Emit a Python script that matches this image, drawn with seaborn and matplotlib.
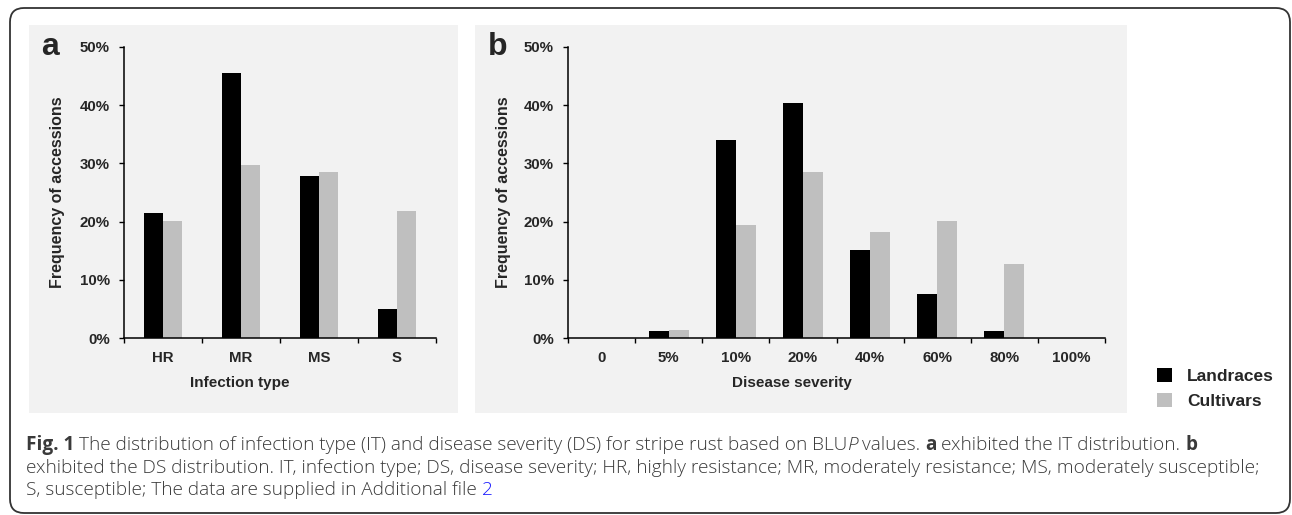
import numpy as np
import pandas as pd
import matplotlib
matplotlib.use("Agg")
import matplotlib.pyplot as plt
import seaborn as sns
from matplotlib.patches import Rectangle, FancyBboxPatch
from matplotlib.transforms import IdentityTransform

# ---------------- data ----------------
it_categories = ["HR", "MR", "MS", "S"]
it_landraces = [21.4, 45.6, 27.8, 5.0]
it_cultivars = [20.1, 29.8, 28.5, 21.9]

ds_categories = ["0", "5%", "10%", "20%", "40%", "60%", "80%", "100%"]
ds_landraces = [0.0, 1.2, 34.1, 40.4, 15.1, 7.5, 1.2, 0.0]
ds_cultivars = [0.0, 1.3, 19.5, 28.5, 18.2, 20.1, 12.8, 0.0]

groups = ["Landraces", "Cultivars"]
palette = ["#000000", "#bfbfbf"]
y_ticks = [0, 10, 20, 30, 40, 50]
y_ticklabels = ["0%", "10%", "20%", "30%", "40%", "50%"]

caption_lines = [
    [("Fig. 1", "bold"), (" ", None),
     ("The distribution of infection type (IT) and disease severity (DS) for stripe rust based on BLU", "normal"),
     ("P", "italic"), (" ", None), ("values.", "normal"), (" ", None), ("a", "bold"), (" ", None),
     ("exhibited the IT distribution.", "normal"), (" ", None), ("b", "bold")],
    [("exhibited the DS distribution. IT, infection type; DS, disease severity; HR, highly resistance; "
      "MR, moderately resistance; MS, moderately susceptible;", "normal")],
    [("S, susceptible; The data are supplied in Additional file", "normal"), (" ", None), ("2", "link")],
]

# ---------------- style ----------------
sns.set_style("ticks")
plt.rcParams["font.family"] = ["Liberation Sans", "DejaVu Sans"]
plt.rcParams["font.weight"] = "bold"
plt.rcParams["axes.labelweight"] = "bold"

W, H = 1292, 515
fig = plt.figure(figsize=(W / 100, H / 100), dpi=100)
fig.patch.set_facecolor("white")


def fx(px):
    return px / W


def fy(py):
    return 1 - py / H


# outer rounded frame
fig.patches.append(FancyBboxPatch((10, H - 513), 1280, 505,
                                  boxstyle="round,pad=0,rounding_size=14",
                                  transform=IdentityTransform(), facecolor="none",
                                  edgecolor="#333333", linewidth=1.3, zorder=-2))
# panel backgrounds
for x0, x1 in [(29, 458), (475, 1127)]:
    fig.patches.append(Rectangle((fx(x0), fy(413)), fx(x1 - x0), (413 - 25) / H,
                                 transform=fig.transFigure, facecolor="#f2f2f2",
                                 edgecolor="none", zorder=-1))

ax1 = fig.add_axes([fx(124), fy(338), fx(436 - 124), (338 - 47) / H])
ax2 = fig.add_axes([fx(568), fy(338), fx(1105 - 568), (338 - 47) / H])


def long_df(cats, a, b):
    return pd.DataFrame({
        "category": list(cats) * 2,
        "value": list(a) + list(b),
        "group": [groups[0]] * len(cats) + [groups[1]] * len(cats),
    })


TICK_SIZE = 10.8


def draw(ax, cats, a, b, width, xlabel, xlab_x, ylab_x):
    df = long_df(cats, a, b)
    sns.barplot(data=df, x="category", y="value", hue="group", order=cats,
                hue_order=groups, palette=palette, saturation=1, width=width,
                gap=0, errorbar=None, linewidth=0, legend=False, ax=ax)
    n = len(cats)
    ax.set_facecolor("none")
    ax.set_xlim(-0.5, n - 0.5)
    ax.set_ylim(0, 50)
    ax.set_xticks(np.arange(n + 1) - 0.5)
    ax.set_xticklabels([])
    ax.set_xticks(np.arange(n), minor=True)
    ax.set_xticklabels(cats, minor=True, fontsize=TICK_SIZE, fontweight="bold")
    ax.tick_params(axis="x", which="major", length=3.6, width=1.0, direction="out", color="black")
    ax.tick_params(axis="x", which="minor", length=0, pad=9.5)
    ax.set_yticks(y_ticks)
    ax.set_yticklabels(y_ticklabels, fontsize=TICK_SIZE, fontweight="bold")
    ax.tick_params(axis="y", length=3.6, width=1.0, pad=6.5, color="black")
    for s in ["top", "right"]:
        ax.spines[s].set_visible(False)
    for s in ["left", "bottom"]:
        ax.spines[s].set_color("black")
        ax.spines[s].set_linewidth(1.1)
    ax.set_xlabel(xlabel, fontsize=11, fontweight="bold")
    ax.set_ylabel("Frequency of accessions", fontsize=11.5, fontweight="bold")
    ax.xaxis.set_label_coords(xlab_x, -0.129)
    ax.yaxis.set_label_coords(ylab_x, 0.5)


draw(ax1, it_categories, it_landraces, it_cultivars, 0.49, "Infection type", 0.372, -0.189)
draw(ax2, ds_categories, ds_landraces, ds_cultivars, 0.60, "Disease severity", 0.417, -0.107)

fig.text(fx(41), fy(55), "a", fontsize=23, fontweight="bold", va="baseline", ha="left")
fig.text(fx(488), fy(55), "b", fontsize=23, fontweight="bold", va="baseline", ha="left")

handles = [Rectangle((0, 0), 1, 1, facecolor=c, edgecolor="none") for c in palette]
fig.legend(handles, groups, loc="center left", bbox_to_anchor=(fx(1157), fy(388.5)),
           frameon=False, handlelength=0.86, handleheight=0.85,
           handletextpad=0.86, labelspacing=0.55, borderpad=0, borderaxespad=0,
           prop={"weight": "bold", "size": 12.5})

# ---------------- caption ----------------
renderer = fig.canvas.get_renderer()
CAP_FAMILY = ["Open Sans", "DejaVu Sans"]
CAP_COLOR = "#3a3a3a"


def piece_kw(style, size):
    kw = dict(family=CAP_FAMILY, fontsize=size, color=CAP_COLOR, weight="light", style="normal")
    if style == "bold":
        kw["weight"] = "bold"
    elif style == "italic":
        kw["style"] = "italic"
    elif style == "link":
        kw["color"] = "#1a1aff"
    return kw


def width_of(s, kw):
    t = fig.text(0, 0, s, **kw)
    w = t.get_window_extent(renderer).width
    t.remove()
    return w


def space_width(size):
    kw = piece_kw("normal", size)
    return width_of("n n", kw) - width_of("nn", kw)


def render_line(pieces, x, y, size, draw_it=True):
    sp = space_width(size)
    for s, style in pieces:
        if style is None:
            x += sp
            continue
        if style == "italic":
            x -= 0.18 * sp
        kw = piece_kw(style, size)
        t = fig.text(fx(x), fy(y), s, va="baseline", ha="left", **kw)
        x += t.get_window_extent(renderer).width
        if not draw_it:
            t.remove()
    return x


base = 12.0
w2 = render_line(caption_lines[1], 0, 0, base, draw_it=False)
cap_size = base * (1263 - 26) / w2
for line, yb in zip(caption_lines, [450, 473, 495]):
    render_line(line, 26, yb, cap_size)

fig.savefig("out.png", dpi=100, facecolor="white")
